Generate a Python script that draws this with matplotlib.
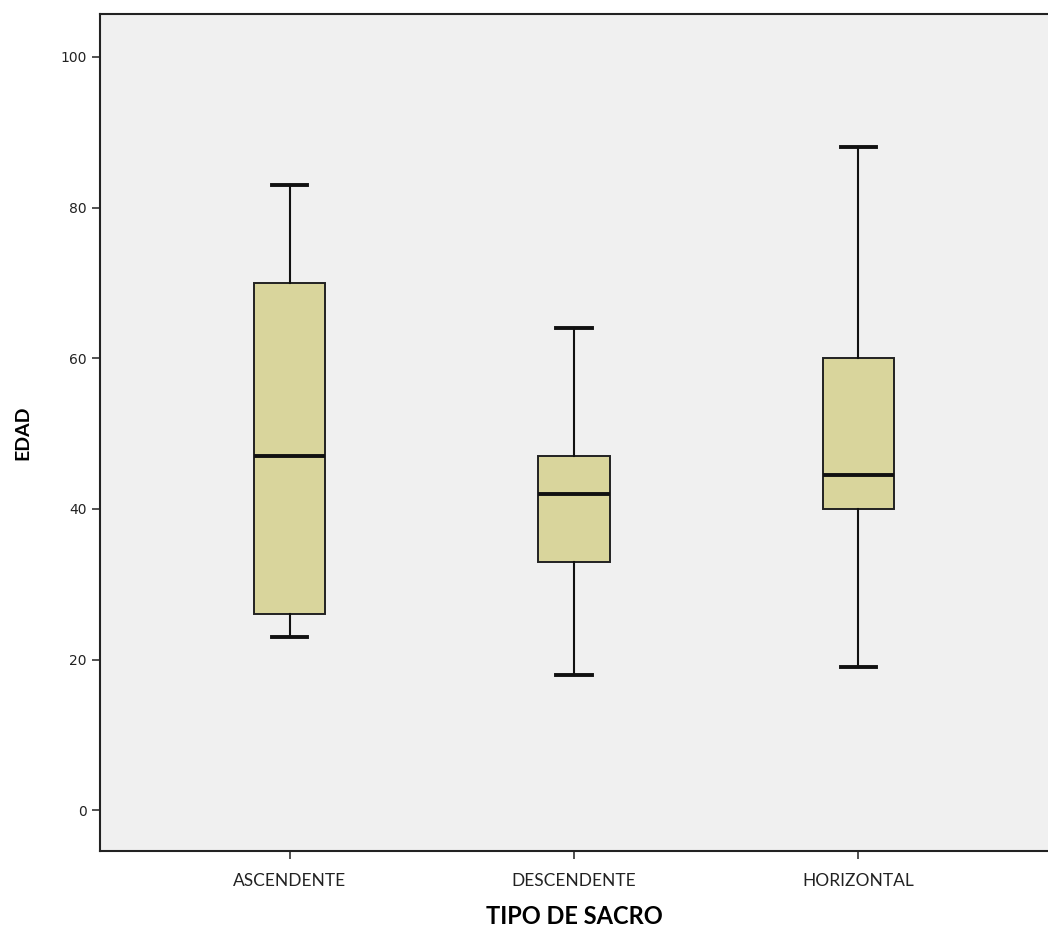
import matplotlib.pyplot as plt

# categorías y estadísticos de EDAD por tipo de sacro
tipos = ['ASCENDENTE', 'DESCENDENTE', 'HORIZONTAL']
minimos = [23, 18, 19]
q1 = [26, 33, 40]
medianas = [47, 42, 44.5]
q3 = [70, 47, 60]
maximos = [83, 64, 88]

stats = []
for i in range(len(tipos)):
    stats.append({'label': tipos[i], 'whislo': minimos[i], 'q1': q1[i],
                  'med': medianas[i], 'q3': q3[i], 'whishi': maximos[i],
                  'fliers': []})

fig = plt.figure(figsize=(10.48, 9.34), dpi=100)
ax = fig.add_axes([100/1048, 1 - 851/934, 948/1048, 837/934])
ax.set_facecolor('#f0f0f0')

ax.bxp(stats, positions=[1, 2, 3], widths=0.25, patch_artist=True,
       boxprops=dict(facecolor='#d9d59c', edgecolor='#222222', linewidth=1.4),
       medianprops=dict(color='#111111', linewidth=2.8),
       whiskerprops=dict(color='#111111', linewidth=1.5),
       capprops=dict(color='#111111', linewidth=2.8),
       capwidths=0.125)

ax.set_xlim(1/3, 11/3)
ax.set_ylim(-5.4, 105.7)
ax.set_yticks([0, 20, 40, 60, 80, 100])
ax.tick_params(axis='y', labelsize=10, length=6, width=1.2, colors='#333333')
ax.tick_params(axis='x', labelsize=12.5, length=6, width=1.2, pad=10,
               colors='#333333')
for lab in ax.get_xticklabels():
    lab.set_family('Lato')
for lab in ax.get_xticklabels() + ax.get_yticklabels():
    lab.set_color('#222222')

ax.spines['right'].set_visible(False)
for s in ['left', 'bottom', 'top']:
    ax.spines[s].set_linewidth(1.5)
    ax.spines[s].set_color('#222222')

ax.set_ylabel('EDAD', fontsize=14, fontweight='bold', family='Lato',
              labelpad=21)
ax.set_xlabel('TIPO DE SACRO', fontsize=17, fontweight='bold', family='Lato',
              labelpad=11)

fig.savefig('out.png', dpi=100, facecolor='white')
